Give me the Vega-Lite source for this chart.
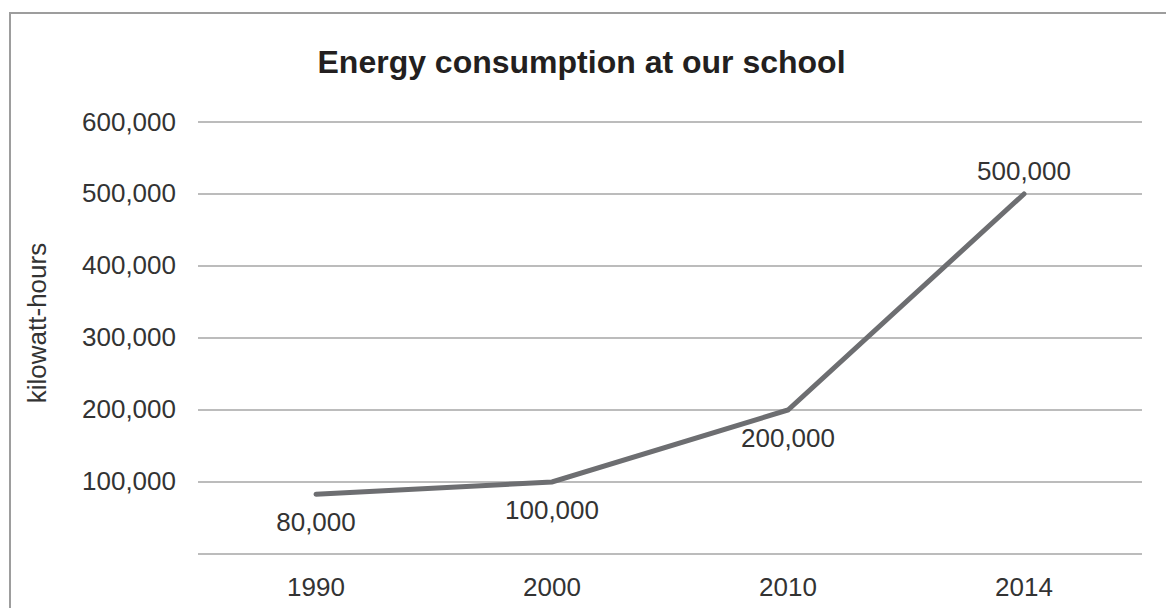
{
  "$schema": "https://vega.github.io/schema/vega-lite/v6.json",
  "width": 1166,
  "height": 607,
  "autosize": {"type": "none"},
  "padding": {"left": 10, "top": 13, "right": -10, "bottom": -12},
  "background": "white",
  "title": {
    "text": "Energy consumption at our school",
    "font": "Liberation Sans",
    "fontSize": 32,
    "fontWeight": "bold",
    "color": "#231f20",
    "anchor": "middle",
    "baseline": "alphabetic",
    "offset": -92,
    "dx": -11.5
  },
  "config": {
    "font": "Liberation Sans",
    "numberFormat": ",",
    "view": {"stroke": "#9d9d9d", "strokeWidth": 2}
  },
  "datasets": {
    "energy": [
      {"year": "1990", "kwh": 83000, "label": "80,000"},
      {"year": "2000", "kwh": 100000, "label": "100,000"},
      {"year": "2010", "kwh": 200000, "label": "200,000"},
      {"year": "2014", "kwh": 500000, "label": "500,000"}
    ],
    "grid": [
      {"value": 0},
      {"value": 100000},
      {"value": 200000},
      {"value": 300000},
      {"value": 400000},
      {"value": 500000},
      {"value": 600000}
    ]
  },
  "layer": [
    {
      "data": {"name": "grid"},
      "mark": {"type": "rule", "color": "#a6a6a6", "strokeWidth": 1.3},
      "encoding": {
        "x": {
          "datum": "1990",
          "type": "ordinal",
          "bandPosition": 0,
          "scale": {"type": "band", "paddingInner": 0, "paddingOuter": 0.47034, "align": 0.8468},
          "axis": {
            "orient": "bottom",
            "offset": -66,
            "domain": false,
            "ticks": false,
            "tickSize": 0,
            "grid": false,
            "labelPadding": 20,
            "labelAngle": 0,
            "labelFont": "Liberation Sans",
            "labelFontSize": 26,
            "labelColor": "#333333",
            "title": null
          }
        },
        "x2": {"datum": "2014", "bandPosition": 1},
        "y": {
          "field": "value",
          "type": "quantitative",
          "scale": {"domain": [-91667, 751389], "nice": false, "zero": false},
          "axis": {
            "values": [100000, 200000, 300000, 400000, 500000, 600000],
            "format": ",",
            "labelExpr": "format(datum.value, ',')",
            "grid": false,
            "domain": false,
            "ticks": false,
            "tickSize": 0,
            "labelPadding": -165.5,
            "labelFont": "Liberation Sans",
            "labelFontSize": 26,
            "labelColor": "#333333",
            "title": "kilowatt-hours",
            "titleFont": "Liberation Sans",
            "titleFontSize": 26,
            "titleFontWeight": "normal",
            "titleColor": "#333333",
            "titleAngle": -90,
            "titleAlign": "center",
            "titleBaseline": "alphabetic",
            "titleX": 35,
            "titleY": 309.5
          }
        }
      }
    },
    {
      "data": {"name": "energy"},
      "mark": {"type": "line", "color": "#6d6e71", "strokeWidth": 5, "strokeCap": "round"},
      "encoding": {
        "x": {
          "field": "year",
          "type": "ordinal",
          "scale": {"type": "band", "paddingInner": 0, "paddingOuter": 0.47034, "align": 0.8468}
        },
        "y": {"field": "kwh", "type": "quantitative"}
      }
    },
    {
      "data": {"name": "energy"},
      "transform": [{"filter": "datum.year != '2014'"}],
      "mark": {"type": "text", "dy": 29, "fontSize": 26, "color": "#333333", "baseline": "middle", "font": "Liberation Sans"},
      "encoding": {
        "x": {
          "field": "year",
          "type": "ordinal",
          "scale": {"type": "band", "paddingInner": 0, "paddingOuter": 0.47034, "align": 0.8468}
        },
        "y": {"field": "kwh", "type": "quantitative"},
        "text": {"field": "label"}
      }
    },
    {
      "data": {"name": "energy"},
      "transform": [{"filter": "datum.year == '2014'"}],
      "mark": {"type": "text", "dy": -21.5, "fontSize": 26, "color": "#333333", "baseline": "middle", "font": "Liberation Sans"},
      "encoding": {
        "x": {
          "field": "year",
          "type": "ordinal",
          "scale": {"type": "band", "paddingInner": 0, "paddingOuter": 0.47034, "align": 0.8468}
        },
        "y": {"field": "kwh", "type": "quantitative"},
        "text": {"field": "label"}
      }
    }
  ]
}
